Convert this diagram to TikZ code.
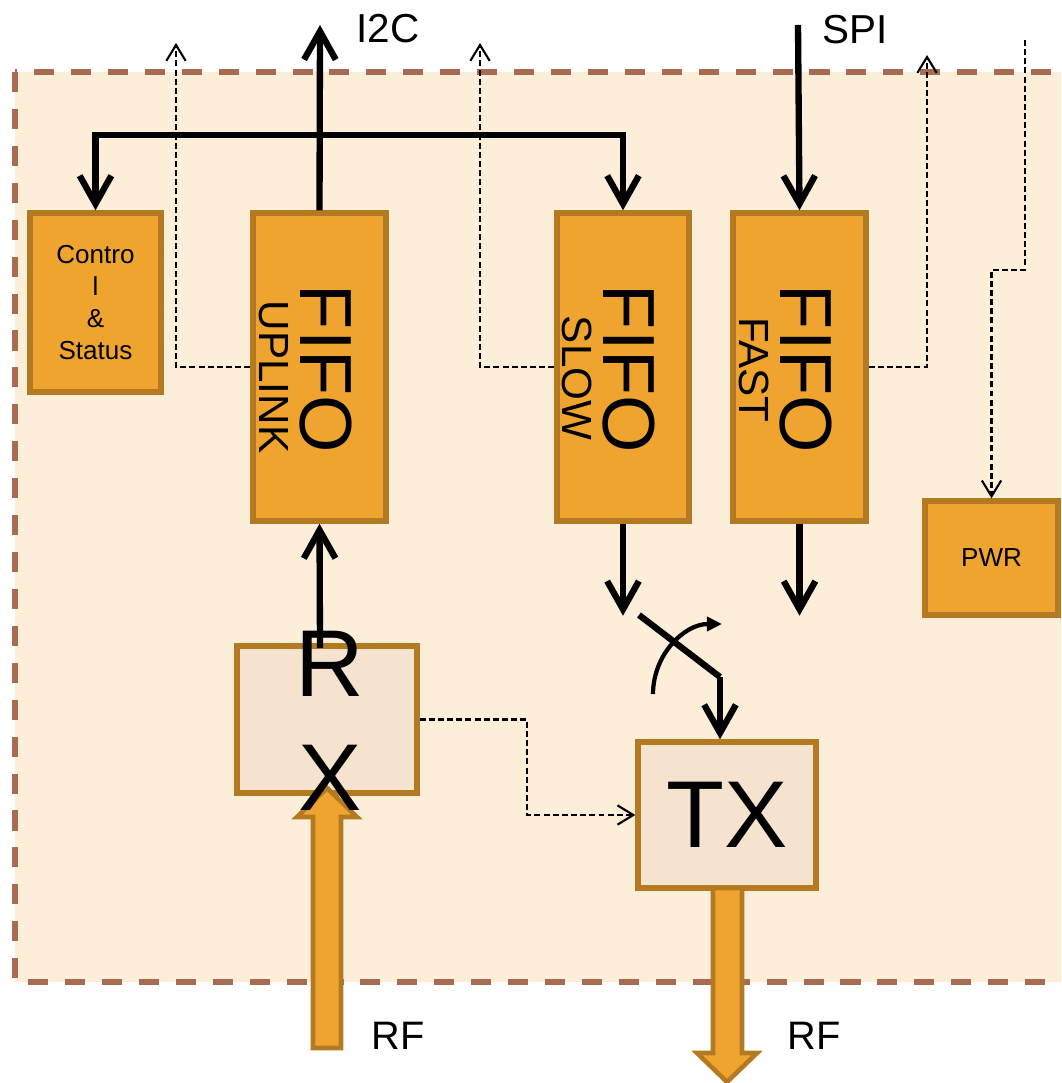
\documentclass[tikz,border=0pt]{standalone}
\usepackage{fontspec}
\setmainfont{Liberation Sans}
\usetikzlibrary{arrows.meta}

\definecolor{boxorange}{HTML}{EFA430}
\definecolor{boxedge}{HTML}{B47A22}
\definecolor{rfbox}{HTML}{F5E3CF}
\definecolor{bgdots}{HTML}{FDEEDA}
\definecolor{framebrown}{HTML}{A86A50}

\begin{document}
\begin{tikzpicture}[x=0.01cm, y=-0.01cm,
    fifobox/.style={draw=boxedge, fill=boxorange, line width=1.5pt, inner sep=0pt},
    rfblock/.style={draw=boxedge, fill=rfbox, line width=1.5pt, inner sep=0pt},
    rfarrow/.style={draw=boxedge, fill=boxorange, line width=1.3pt},
    bus/.style={line width=1.8pt, -{Straight Barb[length=8pt,width=9pt]}},
    ctl/.style={line width=0.6pt, dash pattern=on 1.7pt off 0.9pt, -{Straight Barb[length=4.5pt,width=5.5pt]}},
    bigtxt/.style={font=\fontsize{21}{25}\selectfont, rotate=-90, inner sep=0pt},
    subtxt/.style={font=\fontsize{12}{14}\selectfont, rotate=-90, inner sep=0pt},
    lbl/.style={font=\fontsize{11.5}{14}\selectfont, inner sep=0pt}]
    \clip (0,0) rectangle (1061,1083);

    % Draw the chip outline
    \fill[bgdots] (15,72) rectangle (1100,982);
    \draw[framebrown, line width=1.5pt, dash pattern=on 5.7pt off 4.8pt] (15,72) rectangle (1100,982);

    % Draw the blocks
    \node[fifobox, minimum width=1.31cm, minimum height=1.79cm, align=center,
          font=\fontsize{7.4}{9.1}\selectfont] (ctrl) at (95.5,302.5) {Contro\\l\\\&\\Status};
    \node[fifobox, minimum width=1.33cm, minimum height=3.08cm] (uplink) at (319.5,367) {};
    \node[fifobox, minimum width=1.32cm, minimum height=3.08cm] (slow) at (623,367) {};
    \node[fifobox, minimum width=1.33cm, minimum height=3.08cm] (fast) at (799.5,367) {};
    \node[fifobox, minimum width=1.33cm, minimum height=1.14cm,
          font=\fontsize{7.4}{9}\selectfont] (pwr) at (991.5,558) {PWR};
    \node[rfblock, minimum width=1.80cm, minimum height=1.47cm] (rx) at (327,719.5) {};
    \node[rfblock, minimum width=1.78cm, minimum height=1.46cm,
          font=\fontsize{27}{32}\selectfont] (tx) at (727,815) {TX};

    % Label the FIFOs
    \node[bigtxt] (upf) at (326,369) {FIFO};
    \node[subtxt] (upname) at (274,377) {UPLINK};
    \node[bigtxt] (slowf) at (629,369) {FIFO};
    \node[subtxt] (slowname) at (577,378) {SLOW};
    \node[bigtxt] (fastf) at (806,369) {FIFO};
    \node[subtxt] (fastname) at (754,370) {FAST};

    % External pins
    \coordinate (i2cpin) at (320,25);
    \coordinate (spipin) at (798,25);
    \coordinate (busy) at (0,135);
    \node[lbl] (i2c) at (388,29) {I2C};
    \node[lbl] (spi) at (855,30) {SPI};

    % Data paths
    \draw[bus] (uplink.north) -- (i2cpin);
    \draw[bus, {Straight Barb[length=8pt,width=9pt]}-{Straight Barb[length=8pt,width=9pt]}]
        (ctrl.north) -- (ctrl.north |- busy) -- (slow.north |- busy) -- (slow.north);
    \draw[bus] (spipin) -- (fast.north);
    \coordinate (rxtop) at (320,648);
    \draw[bus] (rxtop) -- (uplink.south);
    \draw[bus] (slow.south) -- ++(0,92);
    \draw[bus] (fast.south) -- ++(0,92);

    % The switch in front of TX
    \coordinate (swa) at (639,615);
    \coordinate (swb) at (720,677);
    \draw[bus, -] (swa) -- (swb);
    \draw[bus] (swb) -- (swb |- tx.north);
    \draw[line width=1.2pt, -{Triangle[length=4.3pt,width=4pt]}]
        (653,694) .. controls (653,655) and (684,624) .. (722,624);

    % Control lines
    \coordinate (upctl) at (176,43);
    \coordinate (slowctl) at (480,43);
    \coordinate (fastctl) at (927,55);
    \coordinate (pwrpin) at (1025,40);
    \coordinate (pwrturn) at (1025,270);
    \coordinate (rxmid) at (527,0);
    \draw[ctl] (uplink.west) -| (upctl);
    \draw[ctl] (slow.west) -| (slowctl);
    \draw[ctl] (fast.east) -| (fastctl);
    \draw[ctl] (pwrpin) -- (pwrturn) -| (pwr.north);
    \draw[ctl] (rx.east) -- (rx.east -| rxmid) |- (tx.west);

    % RF ports
    \draw[rfarrow] (313,1048) -- (313,817) -- (297,817) -- (327,788) -- (357,817)
        -- (341,817) -- (341,1048) -- cycle;
    \draw[rfarrow] (713,888) -- (713,1053) -- (697,1053) -- (727,1082) -- (757,1053)
        -- (742,1053) -- (742,888) -- cycle;
    \node[font=\fontsize{27}{32.4}\selectfont, align=center, inner sep=0pt] (rxtext) at (330,721) {R\\X};
    \node[lbl, font=\fontsize{11.3}{14}\selectfont] (rfin) at (398,1036) {RF};
    \node[lbl, font=\fontsize{11.3}{14}\selectfont] (rfout) at (814,1036) {RF};
\end{tikzpicture}
\end{document}
